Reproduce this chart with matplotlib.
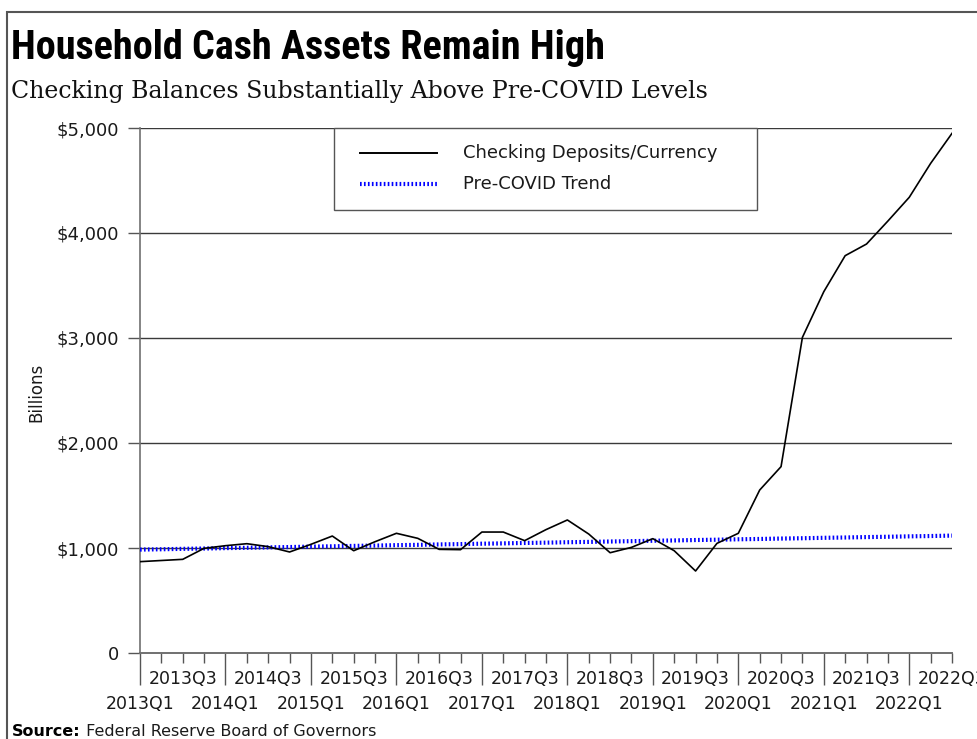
import matplotlib
matplotlib.use("Agg")
import matplotlib.pyplot as plt
from matplotlib.patches import Rectangle
from matplotlib.lines import Line2D
from matplotlib.text import Annotation
from matplotlib import font_manager

# ---------------- data ----------------
quarters = ["2013Q1", "2013Q2", "2013Q3", "2013Q4",
            "2014Q1", "2014Q2", "2014Q3", "2014Q4",
            "2015Q1", "2015Q2", "2015Q3", "2015Q4",
            "2016Q1", "2016Q2", "2016Q3", "2016Q4",
            "2017Q1", "2017Q2", "2017Q3", "2017Q4",
            "2018Q1", "2018Q2", "2018Q3", "2018Q4",
            "2019Q1", "2019Q2", "2019Q3", "2019Q4",
            "2020Q1", "2020Q2", "2020Q3", "2020Q4",
            "2021Q1", "2021Q2", "2021Q3", "2021Q4",
            "2022Q1", "2022Q2", "2022Q3"]

checking = [870, 881, 892, 997, 1022, 1041, 1013, 962,
            1035, 1114, 974, 1060, 1140, 1092, 987, 984,
            1152, 1152, 1070, 1175, 1267, 1133, 955, 1006,
            1089, 974, 781, 1044, 1140, 1552, 1775, 3006,
            3441, 3784, 3895, 4114, 4340, 4663, 4949]

trend = [985, 988, 992, 995, 999, 1002, 1006, 1009,
         1013, 1016, 1020, 1023, 1027, 1030, 1034, 1037,
         1041, 1044, 1048, 1051, 1055, 1058, 1062, 1065,
         1069, 1072, 1076, 1079, 1083, 1086, 1090, 1093,
         1097, 1100, 1104, 1107, 1111, 1114, 1118]

y_ticks = [0, 1000, 2000, 3000, 4000, 5000]
y_labels = ["0", "$1,000", "$2,000", "$3,000", "$4,000", "$5,000"]

series_names = ["Checking Deposits/Currency", "Pre-COVID Trend"]
title = "Household Cash Assets Remain High"
subtitle = "Checking Balances Substantially Above Pre-COVID Levels"
y_title = "Billions"
source_label = "Source:"
source_text = " Federal Reserve Board of Governors"

# ---------------- fonts ----------------
available = {f.name for f in font_manager.fontManager.ttflist}
def pick(cands):
    for c in cands:
        if c in available:
            return c
    return "DejaVu Sans"

title_font = pick(["Liberation Sans Narrow", "Roboto Condensed", "DejaVu Sans Condensed", "Liberation Sans"])
serif_font = pick(["DejaVu Serif", "Liberation Serif"])
sans_font = "DejaVu Sans"

W, H = 978, 739
fig = plt.figure(figsize=(W / 100, H / 100), dpi=100)
fig.patch.set_facecolor("white")

def fx(px):
    return px / W

def fy(py):
    return 1 - py / H

L, R, T, B = 140, 952, 128, 653
ax = fig.add_axes([fx(L), fy(B), fx(R) - fx(L), fy(T) - fy(B)])

trend_style = (0, (0.4, 0.55))
x = list(range(len(quarters)))
ax.plot(x, checking, color="black", lw=1.2, zorder=4)
ax.plot(x, trend, color="#0000FF", lw=3.0, zorder=3,
        linestyle=trend_style, dash_capstyle="butt")

ax.set_xlim(0, len(quarters) - 1)
ax.set_ylim(0, 5000)

# grid
for v in y_ticks[1:]:
    ax.axhline(v, color="#3a3a3a", lw=1.0, zorder=1)

# spines
for s in ["top", "right"]:
    ax.spines[s].set_visible(False)
ax.spines["left"].set_color("#707070")
ax.spines["left"].set_linewidth(1.2)
ax.spines["bottom"].set_color("#707070")
ax.spines["bottom"].set_linewidth(1.4)

ax.set_yticks(y_ticks)
ax.set_yticklabels(y_labels, fontsize=13, family=sans_font, color="#1a1a1a")
ax.tick_params(axis="y", length=9, width=1.0, color="#555555", pad=6)

# x ticks: majors on Q1 (long), minors on other quarters (short)
major_pos = [i for i, q in enumerate(quarters) if q.endswith("Q1")]
minor_pos = [i for i, q in enumerate(quarters) if not q.endswith("Q1")]
ax.set_xticks(major_pos)
ax.set_xticklabels([quarters[i] for i in major_pos], fontsize=12.5, family=sans_font, color="#1a1a1a")
ax.set_xticks(minor_pos, minor=True)
ax.set_xticklabels([quarters[i] if quarters[i].endswith("Q3") else "" for i in minor_pos],
                   minor=True, fontsize=12.5, family=sans_font, color="#1a1a1a")
ax.tick_params(axis="x", which="major", length=23, width=1.0, color="#555555", pad=7)
ax.tick_params(axis="x", which="minor", length=7.5, width=1.0, color="#555555", pad=5)

# legend box (manual, in axes coordinates)
def axx(px):
    return (px - L) / (R - L)

def axy(py):
    return (B - py) / (B - T)

ax.add_patch(Rectangle((axx(334), axy(210)), axx(757) - axx(334), axy(128) - axy(210),
                       transform=ax.transAxes, facecolor="white", edgecolor="#555555",
                       lw=1.0, zorder=6, clip_on=False))
ax.add_line(Line2D([axx(360), axx(437)], [axy(153), axy(153)], transform=ax.transAxes,
                   color="black", lw=1.4, zorder=7, clip_on=False))
ax.add_line(Line2D([axx(360), axx(437)], [axy(184), axy(184)], transform=ax.transAxes,
                   color="#0000FF", lw=3.0, linestyle=trend_style, dash_capstyle="butt",
                   zorder=7, clip_on=False))
ax.text(axx(463), axy(153), series_names[0], transform=ax.transAxes, fontsize=13,
        family=sans_font, color="#1a1a1a", va="center", ha="left", zorder=8)
ax.text(axx(463), axy(184), series_names[1], transform=ax.transAxes, fontsize=13,
        family=sans_font, color="#1a1a1a", va="center", ha="left", zorder=8)

# titles
fig.text(fx(11), fy(59), title, fontsize=29, fontweight="bold", family=title_font,
         color="black", va="baseline", ha="left")
fig.text(fx(11), fy(98), subtitle, fontsize=17, family=serif_font,
         color="#111111", va="baseline", ha="left")

# y axis title
fig.text(fx(36), fy(392), y_title, rotation=90, fontsize=12, family=sans_font,
         color="#1a1a1a", va="center", ha="center")

# source
t1 = fig.text(fx(12), fy(736), source_label, fontsize=11.5, fontweight="bold", family=sans_font,
              color="black", va="baseline", ha="left")
ann = Annotation(source_text, xy=(1, 0), xycoords=t1,
                 fontsize=11.5, family=sans_font, color="#1a1a1a", va="bottom", ha="left")
fig.add_artist(ann)

# outer frame
fig.add_artist(Rectangle((fx(7), fy(760)), fx(1000) - fx(7), fy(12) - fy(760),
                         transform=fig.transFigure, facecolor="none", edgecolor="#555555",
                         lw=1.5, zorder=10))

fig.savefig("out.png", dpi=100)
